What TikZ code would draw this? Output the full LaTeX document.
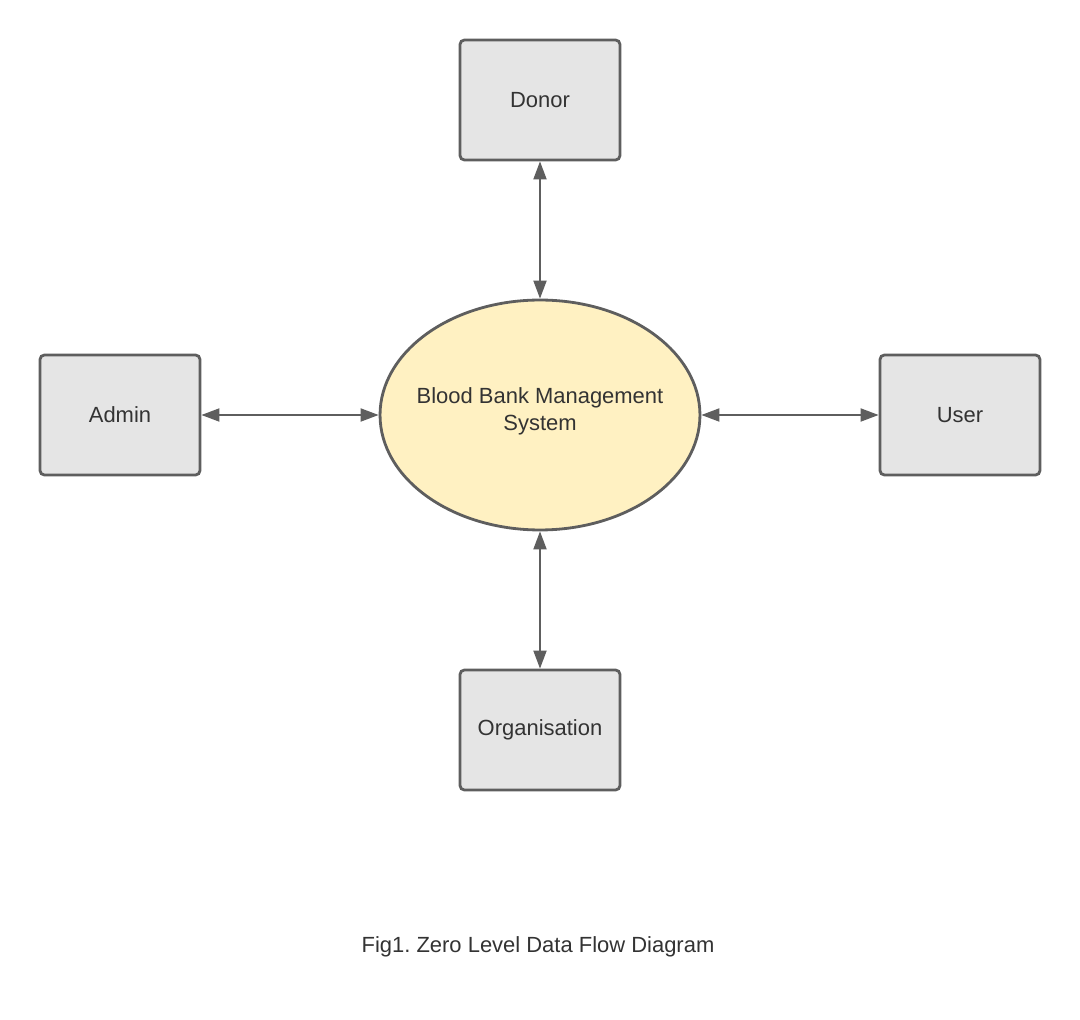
\documentclass[tikz,border=0pt]{standalone}
\usepackage{fontspec}
\setmainfont{Liberation Sans}
\frenchspacing
\usetikzlibrary{shapes.geometric,arrows.meta}
\definecolor{boxfill}{HTML}{E5E5E5}
\definecolor{linegray}{HTML}{5E5E5E}
\definecolor{bbfill}{HTML}{FFF1C2}
\definecolor{textgray}{HTML}{333333}

\begin{document}
\begin{tikzpicture}[x=0.02cm, y=-0.02cm,
	entity/.style={draw=linegray, fill=boxfill, line width=1.6pt, rounded corners=2.5pt,
		minimum width=3.2cm, minimum height=2.4cm, inner sep=0pt, text=textgray,
		font=\fontsize{12.5}{15.4}\selectfont},
	process/.style={draw=linegray, fill=bbfill, line width=1.6pt, ellipse,
		minimum width=6.4cm, minimum height=4.6cm, inner sep=0pt},
	proclabel/.style={align=center, text=textgray, yshift=2pt,
		font=\fontsize{12.5}{15.4}\selectfont},
	flow/.style={draw=linegray, line width=1.1pt,
		{Triangle[length=0.36cm,width=0.26cm]}-{Triangle[length=0.36cm,width=0.26cm]}}]
	\useasboundingbox (0, 0) rectangle (1080, 1020);
	% centre process
	\node[process, label={[proclabel]center:Blood Bank Management\\System}] (bbms) at (540, 415) {};
	% external entities
	\node[entity] (donor) at (540, 100) {Donor};
	\node[entity] (admin) at (120, 415) {Admin};
	\node[entity] (user) at (960, 415) {User};
	\node[entity] (org) at (540, 730) {Organisation};
	% data flows
	\draw[flow] (donor) -- (bbms);
	\draw[flow] (admin) -- (bbms);
	\draw[flow] (user) -- (bbms);
	\draw[flow] (org) -- (bbms);
	% caption
	\node[text=textgray, font=\fontsize{12.5}{15}\selectfont] (caption) at (538, 947) {Fig1. Zero Level Data Flow Diagram};
\end{tikzpicture}
\end{document}
